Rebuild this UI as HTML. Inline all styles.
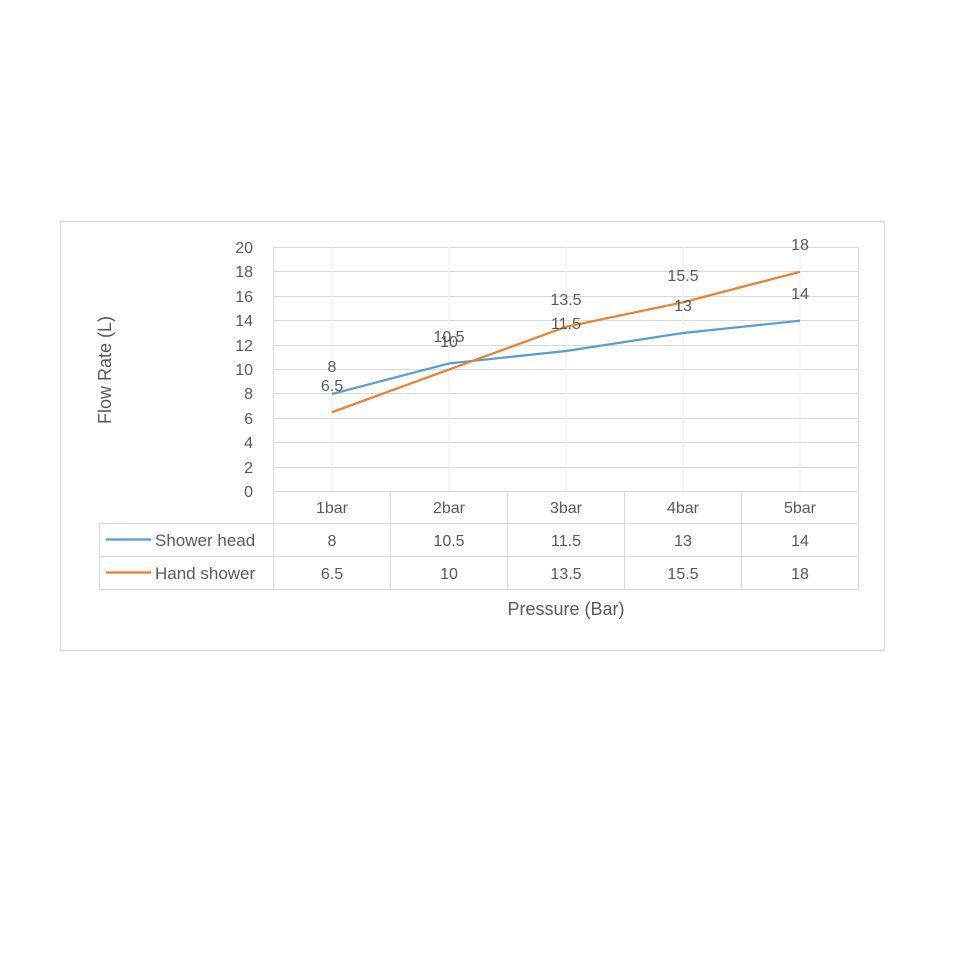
<!DOCTYPE html>
<html><head><style>
body{margin:0;background:#fff;}
svg text{font-family:"Liberation Sans",sans-serif;fill:#595959;}
</style></head><body>
<svg width="970" height="970" xmlns="http://www.w3.org/2000/svg">
<rect x="60.5" y="221.5" width="824" height="429" fill="#fff" stroke="#d9d9d9"/>
<g stroke="#d9d9d9" stroke-width="1">
<line x1="273" y1="247.5" x2="859" y2="247.5"/>
<line x1="273" y1="271.5" x2="859" y2="271.5"/>
<line x1="273" y1="296.5" x2="859" y2="296.5"/>
<line x1="273" y1="320.5" x2="859" y2="320.5"/>
<line x1="273" y1="345.5" x2="859" y2="345.5"/>
<line x1="273" y1="369.5" x2="859" y2="369.5"/>
<line x1="273" y1="393.5" x2="859" y2="393.5"/>
<line x1="273" y1="418.5" x2="859" y2="418.5"/>
<line x1="273" y1="442.5" x2="859" y2="442.5"/>
<line x1="273" y1="467.5" x2="859" y2="467.5"/>
<line x1="273" y1="491.5" x2="859" y2="491.5"/>
<line x1="332" y1="247" x2="332" y2="491" stroke="#eee"/>
<line x1="449" y1="247" x2="449" y2="491" stroke="#eee"/>
<line x1="566" y1="247" x2="566" y2="491" stroke="#eee"/>
<line x1="683" y1="247" x2="683" y2="491" stroke="#eee"/>
<line x1="800" y1="247" x2="800" y2="491" stroke="#eee"/>
<line x1="273.5" y1="247" x2="273.5" y2="589"/>
<line x1="390.5" y1="491" x2="390.5" y2="589"/>
<line x1="507.5" y1="491" x2="507.5" y2="589"/>
<line x1="624.5" y1="491" x2="624.5" y2="589"/>
<line x1="741.5" y1="491" x2="741.5" y2="589"/>
<line x1="858.5" y1="247" x2="858.5" y2="589"/>
<line x1="99" y1="523.5" x2="859" y2="523.5"/>
<line x1="99" y1="556.5" x2="859" y2="556.5"/>
<line x1="99" y1="589.5" x2="859" y2="589.5"/>
<line x1="99.5" y1="523" x2="99.5" y2="589"/>
</g>
<g font-size="16" text-anchor="end">
<text x="253" y="253">20</text><text x="253" y="277">18</text><text x="253" y="302">16</text>
<text x="253" y="326">14</text><text x="253" y="351">12</text><text x="253" y="375">10</text>
<text x="253" y="399">8</text><text x="253" y="424">6</text><text x="253" y="448">4</text>
<text x="253" y="473">2</text><text x="253" y="497">0</text>
</g>
<text font-size="18" transform="translate(111,370) rotate(-90)" text-anchor="middle">Flow Rate (L)</text>
<polyline fill="none" stroke="#5b9bd5" stroke-width="2.2" points="332,394 449,363.4 566,351 683,333 800,320.7"/>
<polyline fill="none" stroke="#ed7d31" stroke-width="2.2" points="332,412.2 449,369.5 566,326.8 683,302.3 800,271.8"/>
<g font-size="16" text-anchor="middle">
<text x="332" y="372">8</text><text x="449" y="342">10.5</text><text x="566" y="329">11.5</text><text x="683" y="311">13</text><text x="800" y="299">14</text>
<text x="332" y="391">6.5</text><text x="449" y="347">10</text><text x="566" y="305">13.5</text><text x="683" y="281">15.5</text><text x="800" y="250">18</text>
<text x="332" y="513">1bar</text><text x="449" y="513">2bar</text><text x="566" y="513">3bar</text><text x="683" y="513">4bar</text><text x="800" y="513">5bar</text>
<text x="332" y="546">8</text><text x="449" y="546">10.5</text><text x="566" y="546">11.5</text><text x="683" y="546">13</text><text x="800" y="546">14</text>
<text x="332" y="579">6.5</text><text x="449" y="579">10</text><text x="566" y="579">13.5</text><text x="683" y="579">15.5</text><text x="800" y="579">18</text>
</g>
<line x1="106" y1="539.5" x2="151" y2="539.5" stroke="#5b9bd5" stroke-width="2.2"/>
<line x1="106" y1="572.5" x2="151" y2="572.5" stroke="#ed7d31" stroke-width="2.2"/>
<text x="155" y="546" font-size="17">Shower head</text>
<text x="155" y="579" font-size="17">Hand shower</text>
<text x="566" y="615" font-size="18" text-anchor="middle">Pressure (Bar)</text>
</svg>
</body></html>
